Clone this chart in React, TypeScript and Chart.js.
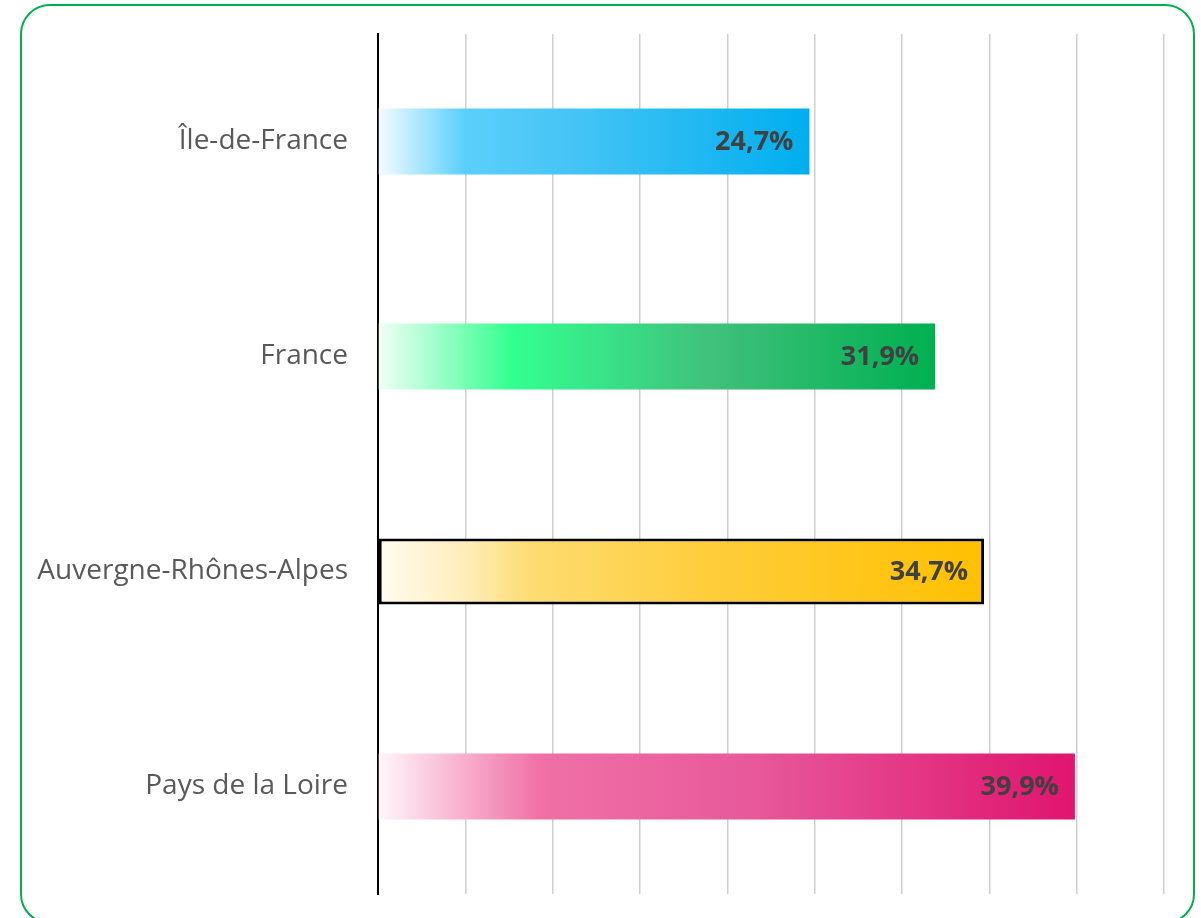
import React, { useEffect, useRef } from "react";
import { Chart, registerables } from "chart.js";

Chart.register(...registerables);

const categories = ["Île-de-France", "France", "Auvergne-Rhônes-Alpes", "Pays de la Loire"];
const values = [24.7, 31.9, 34.7, 39.9];
const valueLabels = ["24,7%", "31,9%", "34,7%", "39,9%"];
const xTickStep = 5;
const xMax = 45;

const blueStops: [number, string][] = [[0, "#F5FCFF"], [0.2, "#5BCFFB"], [0.45, "#45C4F5"], [1, "#00AEEF"]];
const greenStops: [number, string][] = [[0, "#F2FFF7"], [0.24, "#33FF90"], [0.6, "#40C07C"], [1, "#00B050"]];
const yellowStops: [number, string][] = [[0, "#FFFCF2"], [0.15, "#FFEDB8"], [0.25, "#FDDC72"], [0.55, "#FECD3A"], [1, "#FFC000"]];
const pinkStops: [number, string][] = [[0, "#FFF6FA"], [0.23, "#F071A6"], [0.55, "#E7579A"], [1, "#E0146E"]];
const barStops = [blueStops, greenStops, yellowStops, pinkStops];
const barBorderWidths = [0, 0, 3, 0];

const labelPlugin = {
  id: "valueLabels",
  afterDraw(chart: any) {
    const ctx = chart.ctx;
    const meta = chart.getDatasetMeta(0);
    ctx.save();
    ctx.font = "bold 27px 'Open Sans'";
    ctx.fillStyle = "#404040";
    ctx.textAlign = "right";
    ctx.textBaseline = "middle";
    meta.data.forEach((el: any, i: number) => {
      ctx.fillText(valueLabels[i], el.x - 16, el.y + 1);
    });
    ctx.restore();
  },
};

export default function App() {
  const ref = useRef<HTMLCanvasElement>(null);
  useEffect(() => {
    document.body.style.margin = "0";
    document.body.style.overflow = "hidden";
    const chart = new Chart(ref.current!, {
      type: "bar",
      data: {
        labels: categories,
        datasets: [
          {
            data: values,
            backgroundColor: (c: any) => {
              const chart = c.chart;
              const stops = barStops[c.dataIndex] || blueStops;
              if (!chart.chartArea || !chart.scales.x) return stops[stops.length - 1][1];
              const xs = chart.scales.x;
              const x0 = xs.getPixelForValue(0);
              const x1 = xs.getPixelForValue(values[c.dataIndex]);
              const g = chart.ctx.createLinearGradient(x0, 0, x1, 0);
              stops.forEach(([o, col]) => g.addColorStop(o, col));
              return g;
            },
            borderColor: "#000000",
            borderWidth: barBorderWidths,
            borderSkipped: false,
            barPercentage: 0.307,
            categoryPercentage: 1,
          },
        ],
      },
      options: {
        indexAxis: "y",
        animation: false,
        responsive: false,
        devicePixelRatio: 1,
        layout: { padding: { top: 34, right: 37, bottom: 24, left: 0 } },
        plugins: { legend: { display: false }, tooltip: { enabled: false } },
        scales: {
          x: {
            min: 0,
            max: xMax,
            z: 1,
            ticks: { stepSize: xTickStep, display: false },
            grid: { color: "rgba(0,0,0,0.19)", lineWidth: 1.5, drawTicks: false },
            border: { display: false },
            afterFit: (s: any) => {
              s.height = 0;
              s.paddingLeft = 0;
              s.paddingRight = 0;
            },
          },
          y: {
            grid: { display: false, drawTicks: false },
            border: { color: "#000000", width: 2 },
            ticks: {
              color: "#595959",
              font: { family: "'Open Sans'", size: 28 },
              padding: 30,
            },
            afterFit: (s: any) => {
              s.width = 378;
              s.paddingTop = 0;
              s.paddingBottom = 0;
            },
          },
        },
      },
      plugins: [labelPlugin],
    } as any);
    return () => chart.destroy();
  }, []);

  return (
    <div style={{ position: "fixed", left: 0, top: 0, width: 1201, height: 918, background: "#fff" }}>
      <div
        style={{
          position: "absolute",
          left: 20,
          top: 4,
          width: 1175,
          height: 920,
          border: "2px solid #00B050",
          borderRadius: 30,
          boxSizing: "border-box",
        }}
      />
      <canvas
        ref={ref}
        width={1201}
        height={918}
        style={{ position: "absolute", left: 0, top: 0, width: 1201, height: 918 }}
      />
    </div>
  );
}
